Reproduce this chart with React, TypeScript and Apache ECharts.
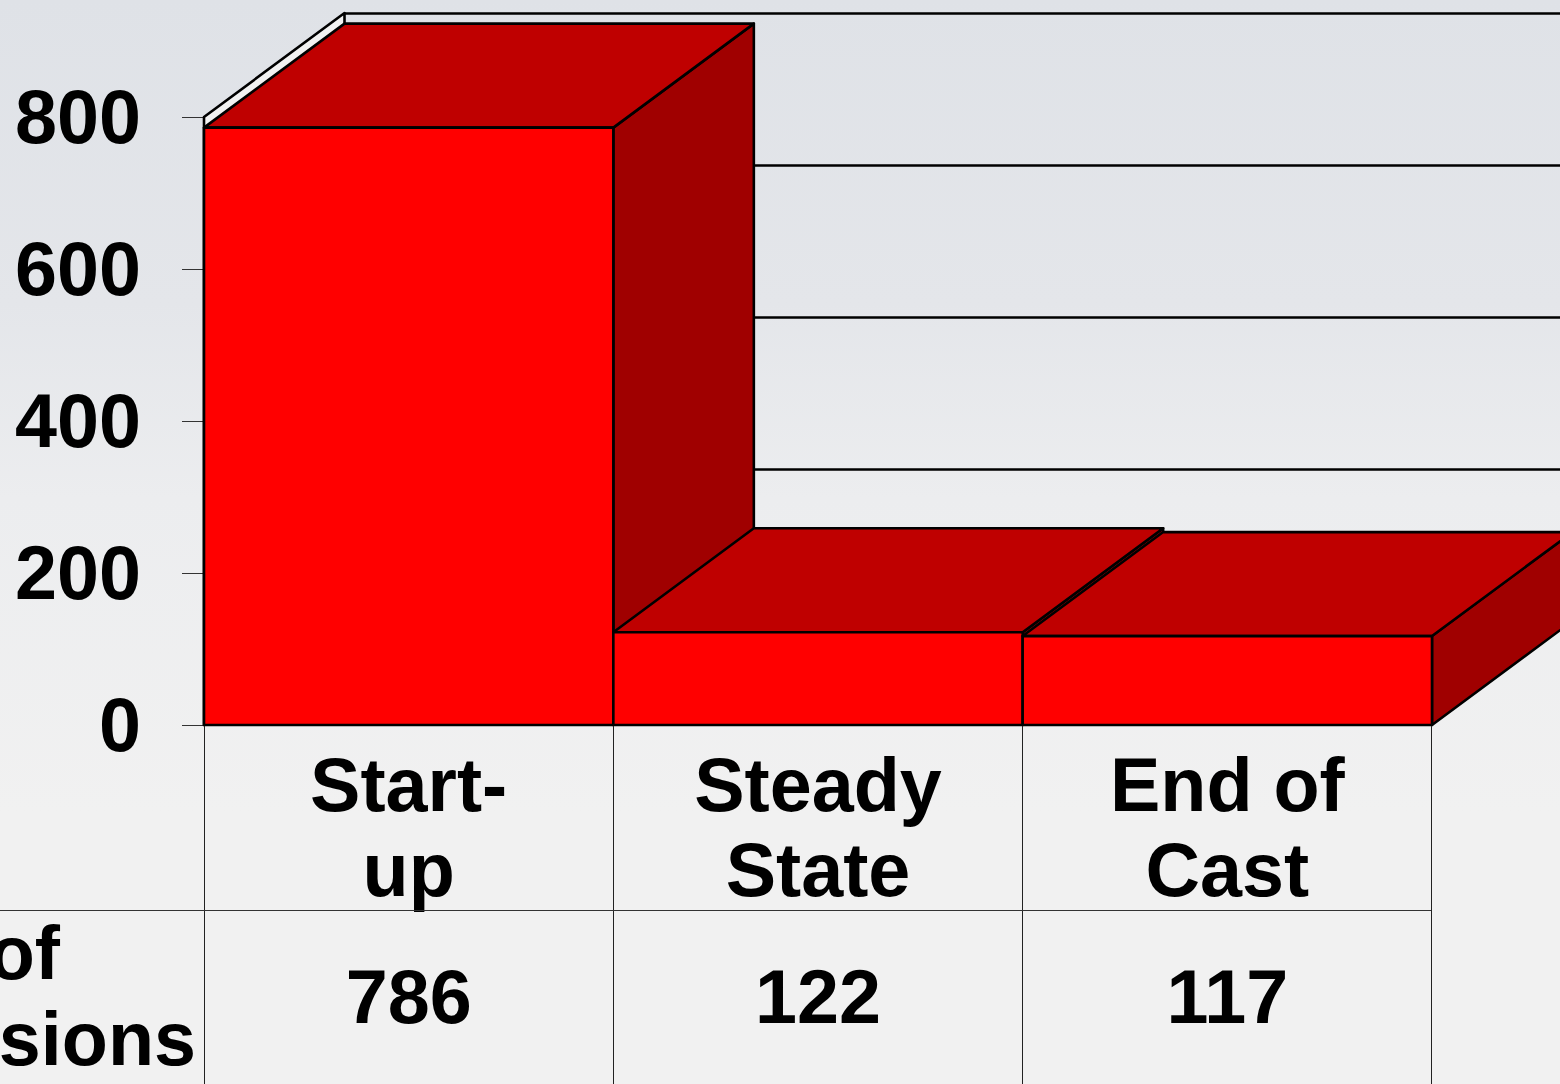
import React, { useEffect, useRef } from "react";
import * as echarts from "echarts";

const categories = ["Start-\nup", "Steady\nState", "End of\nCast"];
const emissions = [786, 122, 117];
const wallTicks = [0, 200, 400, 600, 800];
const tableEdges = [0, 1, 2, 3];
const rowLabels = ["of", "sions"];

const FONT = '"Liberation Sans", Arial, sans-serif';
const FONT_SIZE = 75.5;
const DX = 140.5;
const DY = 104;

const poly = (points: number[][], fill: string, lineWidth = 2.6) => ({
  type: "polygon",
  shape: { points },
  style: { fill, stroke: "#000", lineWidth, lineJoin: "round" },
});

const line = (x1: number, y1: number, x2: number, y2: number, lineWidth: number, stroke: string) => ({
  type: "line",
  shape: { x1, y1, x2, y2 },
  style: { stroke, lineWidth, fill: "none" },
});

export default function App() {
  const ref = useRef<HTMLDivElement>(null);

  useEffect(() => {
    const chart = echarts.init(ref.current!, undefined, { renderer: "svg" });
    chart.setOption({
      animation: false,
      backgroundColor: new echarts.graphic.LinearGradient(0, 0, 0, 1, [
        { offset: 0, color: "#dfe2e7" },
        { offset: 0.28, color: "#e4e6ea" },
        { offset: 0.46, color: "#ecedef" },
        { offset: 0.75, color: "#f1f1f1" },
        { offset: 1, color: "#f1f1f1" },
      ]),
      grid: { left: 204, width: 1228, top: 117, height: 608 },
      xAxis: {
        type: "category",
        data: categories,
        axisTick: { show: false },
        axisLine: { show: true, lineStyle: { color: "#000", width: 2 } },
        axisLabel: {
          interval: 0,
          color: "#000",
          fontFamily: FONT,
          fontWeight: "bold",
          fontSize: FONT_SIZE,
          lineHeight: 85,
          margin: 17,
        },
      },
      yAxis: {
        type: "value",
        min: 0,
        max: 800,
        interval: 200,
        splitLine: { show: false },
        axisLine: { show: true, lineStyle: { color: "#000", width: 2 } },
        axisTick: { show: true, length: 22, lineStyle: { color: "#333", width: 1 } },
        axisLabel: {
          color: "#000",
          fontFamily: FONT,
          fontWeight: "bold",
          fontSize: FONT_SIZE,
          margin: 63,
        },
      },
      graphic: [
        { type: "text", x: 60, y: 953, style: { text: rowLabels[0], fill: "#000", font: `bold ${FONT_SIZE}px ${FONT}`, textAlign: "right", textVerticalAlign: "middle" } },
        { type: "text", x: 196, y: 1039, style: { text: rowLabels[1], fill: "#000", font: `bold ${FONT_SIZE}px ${FONT}`, textAlign: "right", textVerticalAlign: "middle" } },
      ],
      series: [
        {
          type: "custom",
          silent: true,
          z: 1,
          data: [[0, 800]],
          encode: { x: 0, y: 1 },
          renderItem: (_p: any, api: any) => {
            const band = api.size([1, 0])[0];
            const top = api.coord([0, 800]);
            const bottom = api.coord([0, 0]);
            const x = top[0] - band / 2;
            return poly(
              [
                [x, top[1]],
                [x + DX, top[1] - DY],
                [x + DX, bottom[1] - DY],
                [x, bottom[1]],
              ],
              "#f2f2f2"
            );
          },
        },
        {
          type: "custom",
          silent: true,
          z: 1,
          data: wallTicks.map((v) => [0, v]),
          encode: { x: 0, y: 1 },
          renderItem: (_p: any, api: any) => {
            const band = api.size([1, 0])[0];
            const c = api.coord([0, api.value(1)]);
            const x = c[0] - band / 2 + DX;
            const y = Math.round(c[1] - DY) + 0.5;
            return line(x, y, x + band * categories.length, y, 2.4, "#000");
          },
        },
        {
          type: "custom",
          silent: true,
          z: 2,
          data: emissions.map((v, i) => [i, v]),
          encode: { x: 0, y: 1 },
          renderItem: (_p: any, api: any) => {
            const i = api.value(0);
            const band = api.size([1, 0])[0];
            const top = api.coord([i, api.value(1)]);
            const base = api.coord([i, 0]);
            const l = top[0] - band / 2;
            const r = l + band;
            return {
              type: "group",
              children: [
                poly([[r, top[1]], [r + DX, top[1] - DY], [r + DX, base[1] - DY], [r, base[1]]], "#a00000"),
                poly([[l, top[1]], [l + DX, top[1] - DY], [r + DX, top[1] - DY], [r, top[1]]], "#bf0000"),
                poly([[l, top[1]], [r, top[1]], [r, base[1]], [l, base[1]]], "#ff0000"),
              ],
            };
          },
        },
        {
          type: "custom",
          silent: true,
          z: 3,
          data: tableEdges.map((v) => [0, v]),
          encode: { x: 0 },
          renderItem: (_p: any, api: any) => {
            const band = api.size([1, 0])[0];
            const base = api.coord([0, 0]);
            const edge = api.value(1);
            const x = Math.floor(base[0] - band / 2 + edge * band + 0.2 - edge * 0.3) + 0.5;
            return line(x, base[1] + 1, x, 1084, 1, "#222");
          },
        },
        {
          type: "custom",
          silent: true,
          z: 3,
          data: [[0, 0]],
          encode: { x: 0 },
          renderItem: (_p: any, api: any) => {
            const band = api.size([1, 0])[0];
            const base = api.coord([0, 0]);
            const right = base[0] - band / 2 + band * categories.length;
            return line(0, 910.5, right - 1, 910.5, 1, "#333");
          },
        },
        {
          type: "custom",
          silent: true,
          z: 4,
          data: emissions.map((v, i) => [i, v]),
          encode: { x: 0 },
          renderItem: (_p: any, api: any) => {
            const c = api.coord([api.value(0), 0]);
            return {
              type: "text",
              x: c[0],
              y: 997,
              style: {
                text: String(api.value(1)),
                fill: "#000",
                font: `bold ${FONT_SIZE}px ${FONT}`,
                textAlign: "center",
                textVerticalAlign: "middle",
              },
            };
          },
        },
      ],
    });
    return () => chart.dispose();
  }, []);

  return (
    <div
      ref={ref}
      style={{ position: "fixed", left: 0, top: 0, width: 1560, height: 1084, overflow: "hidden" }}
    />
  );
}
